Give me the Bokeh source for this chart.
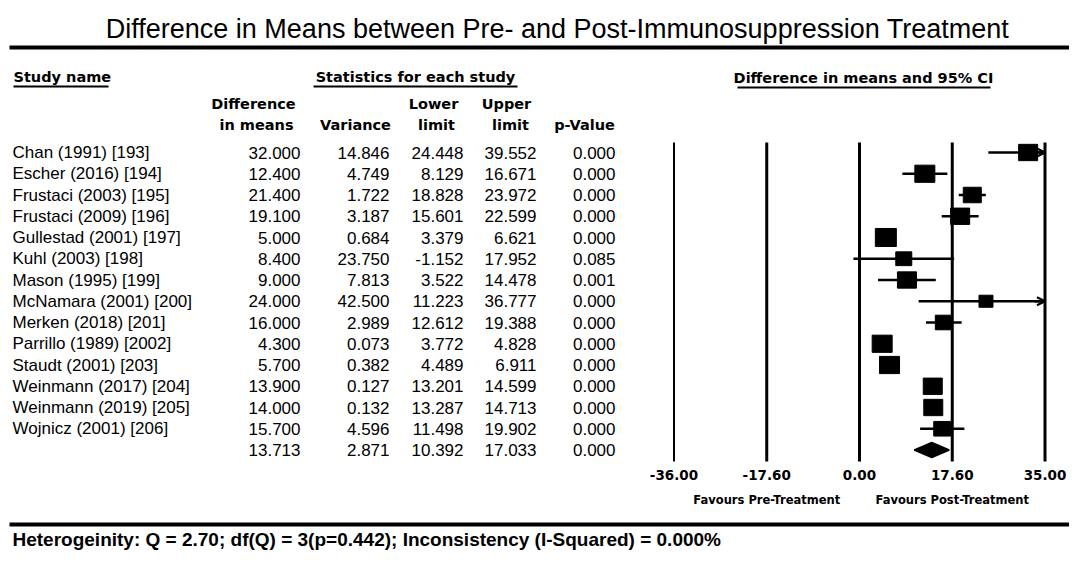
from bokeh.plotting import figure
from bokeh.models import Range1d, ColumnDataSource, Arrow, OpenHead
from bokeh.core.properties import value
from bokeh.embed import file_html
from bokeh.resources import INLINE

# ---------------- data ----------------
studies = ["Chan (1991) [193]", "Escher (2016)  [194]", "Frustaci  (2003) [195]",
           "Frustaci (2009) [196]", "Gullestad (2001) [197]", "Kuhl (2003) [198]",
           "Mason (1995) [199]", "McNamara (2001) [200]", "Merken (2018) [201]",
           "Parrillo (1989) [2002]", "Staudt (2001) [203]", "Weinmann (2017) [204]",
           "Weinmann (2019) [205]", "Wojnicz (2001) [206]"]
diff = [32.0, 12.4, 21.4, 19.1, 5.0, 8.4, 9.0, 24.0, 16.0, 4.3, 5.7, 13.9, 14.0, 15.7]
variance = [14.846, 4.749, 1.722, 3.187, 0.684, 23.750, 7.813, 42.500, 2.989, 0.073,
            0.382, 0.127, 0.132, 4.596]
lower = [24.448, 8.129, 18.828, 15.601, 3.379, -1.152, 3.522, 11.223, 12.612, 3.772,
         4.489, 13.201, 13.287, 11.498]
upper = [39.552, 16.671, 23.972, 22.599, 6.621, 17.952, 14.478, 36.777, 19.388, 4.828,
         6.911, 14.599, 14.713, 19.902]
pvalue = [0.000, 0.000, 0.000, 0.000, 0.000, 0.085, 0.001, 0.000, 0.000, 0.000,
          0.000, 0.000, 0.000, 0.000]
summary_diff = 13.713
summary_var = 2.871
summary_lower = 10.392
summary_upper = 17.033
summary_p = 0.000

tick_values = [-35.2, -17.6, 0.0, 17.6, 35.2]
tick_labels = ["-36.00", "-17.60", "0.00", "17.60", "35.00"]
axis_min, axis_max = -35.2, 35.2

title_text = "Difference in Means between Pre- and Post-Immunosuppression Treatment"
footer_text = "Heterogeinity: Q = 2.70; df(Q) = 3(p=0.442); Inconsistency (I-Squared) = 0.000%"

# ---------------- styles ----------------
square_px = [19, 20, 18, 19, 21, 16, 19, 14, 17, 20, 20, 19, 19, 17]
TABLE_FONT = value("Liberation Sans")
HEAD_FONT = value("DejaVu Sans")
TITLE_FONT = value("Liberation Sans")

W, H = 1069, 550
ROW0, ROWH = 152.0, 21.25
p = figure(width=W, height=H, x_range=Range1d(0, W),
           y_range=Range1d((H - ROW0) / ROWH, -ROW0 / ROWH),
           output_backend="svg", toolbar_location=None, min_border=0,
           x_axis_location=None, y_axis_location=None)
p.grid.visible = False
p.outline_line_color = None
p.background_fill_color = "white"
ZERO_PX, PX_PER_UNIT = 859.0, 5.27
p.extra_x_ranges = {"effect": Range1d(-ZERO_PX / PX_PER_UNIT, (W - ZERO_PX) / PX_PER_UNIT)}
p.extra_y_ranges = {"px": Range1d(H, 0)}

n = len(studies)
rows = list(range(n))

# ---- title & rules ----
p.text(x=[557], y=[28], text=[title_text], text_align="center", text_baseline="middle",
       text_font=TITLE_FONT, text_font_size="27px", text_color="black", y_range_name="px")
p.segment(x0=[9, 9], y0=[47, 524], x1=[W, W], y1=[47, 524], line_width=4,
          line_color="black", y_range_name="px")

# ---- section headers (underlined) ----
hdr = ColumnDataSource(dict(x=[13, 415, 863], y=[76, 76, 77],
                            t=["Study name", "Statistics for each study",
                               "Difference in means and 95% CI"],
                            a=["left", "center", "center"]))
p.text(x="x", y="y", text="t", text_align="a", text_baseline="middle", source=hdr,
       text_font=HEAD_FONT, text_font_style="bold", text_font_size="14.5px",
       y_range_name="px")
p.segment(x0=[13, 313, 737], y0=[86, 86, 87], x1=[108, 517, 990], y1=[86, 86, 87],
          line_width=1.8, line_color="black", y_range_name="px")

# ---- column headers ----
ch = ColumnDataSource(dict(
    x=[253, 256, 355, 433, 436, 506, 510, 584],
    y=[103, 124, 124, 103, 124, 103, 124, 124],
    t=["Difference", "in means", "Variance", "Lower", "limit", "Upper", "limit", "p-Value"]))
p.text(x="x", y="y", text="t", text_align="center", text_baseline="middle", source=ch,
       text_font=HEAD_FONT, text_font_style="bold", text_font_size="14.5px",
       y_range_name="px")

# ---- table body ----
fmt = lambda v: f"{v:.3f}"
tbl = ColumnDataSource(dict(
    row=rows + [n],
    name=studies + [""],
    d=[fmt(v) for v in diff] + [fmt(summary_diff)],
    v=[fmt(v) for v in variance] + [fmt(summary_var)],
    lo=[fmt(v) for v in lower] + [fmt(summary_lower)],
    hi=[fmt(v) for v in upper] + [fmt(summary_upper)],
    pv=[fmt(v) for v in pvalue] + [fmt(summary_p)],
))
common = dict(y="row", source=tbl, text_baseline="middle", text_font=TABLE_FONT,
              text_font_size="17px", text_color="black")
p.text(x=12, text="name", text_align="left", **common)
for col, xr in [("d", 300), ("v", 389), ("lo", 463), ("hi", 536), ("pv", 615)]:
    p.text(x=xr, text=col, text_align="right", **common)

# ---- forest plot ----
vtop, vbot = (142 - ROW0) / ROWH, (461 - ROW0) / ROWH
p.segment(x0=tick_values, x1=tick_values, y0=[vtop] * 5, y1=[vbot] * 5,
          line_width=[2, 3, 3, 3, 3], line_color="black", x_range_name="effect")

ci_lo = [max(l, axis_min) for l in lower]
ci_hi = [min(u, axis_max) for u in upper]
p.segment(x0=ci_lo, x1=ci_hi, y0=rows, y1=rows, line_width=2.5, line_color="black",
          x_range_name="effect")
for i in range(n):
    if upper[i] > axis_max:
        p.add_layout(Arrow(end=OpenHead(size=8, line_width=2, line_color="black"),
                           x_start=axis_max - 2, y_start=i, x_end=axis_max, y_end=i,
                           line_width=2.5, line_color="black", x_range_name="effect"))

sq = ColumnDataSource(dict(x=diff, y=rows, w=square_px, h=[s * 0.86 for s in square_px]))
p.rect(x="x", y="y", width="w", height="h", width_units="screen", height_units="screen",
       source=sq, fill_color="black", line_color="black", x_range_name="effect")

p.patch(x=[summary_lower, summary_diff, summary_upper, summary_diff],
        y=[n, n - 0.35, n, n + 0.35], fill_color="black", line_color="black",
        line_width=1.5, x_range_name="effect")

# tick labels and favour labels on the effect scale
p.text(x=tick_values, y=[474] * 5, text=tick_labels, text_align="center",
       text_baseline="middle", text_font=HEAD_FONT, text_font_style="bold",
       text_font_size="13.5px", x_range_name="effect", y_range_name="px")
p.text(x=[-17.6, 17.6], y=[499, 499], text=["Favours Pre-Treatment", "Favours Post-Treatment"],
       text_align="center", text_baseline="middle", text_font=HEAD_FONT,
       text_font_style="bold", text_font_size="11.5px", x_range_name="effect",
       y_range_name="px")

# ---- footer ----
p.text(x=[12], y=[539], text=[footer_text], text_align="left", text_baseline="middle",
       text_font=TITLE_FONT, text_font_style="bold", text_font_size="19px",
       y_range_name="px")

open("out.html", "w").write(file_html(p, INLINE))
